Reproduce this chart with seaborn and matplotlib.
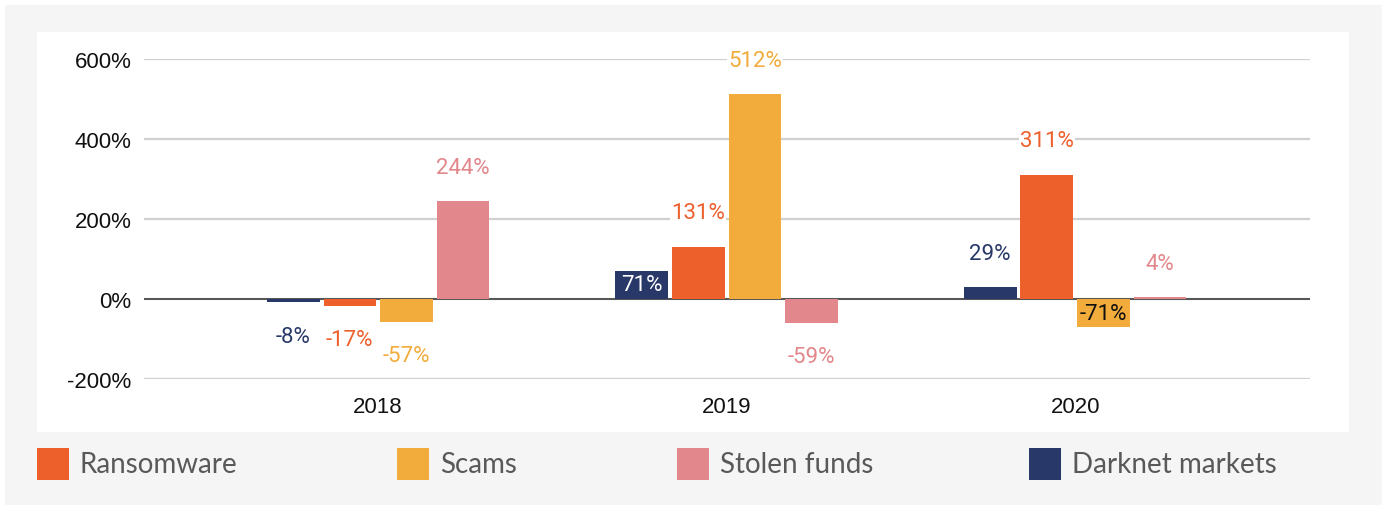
import matplotlib
matplotlib.use("Agg")
import matplotlib.pyplot as plt
from matplotlib.patches import Rectangle
import seaborn as sns
import pandas as pd

# data
years = ["2018", "2019", "2020"]
darknet = [-8, 71, 29]
ransomware = [-17, 131, 311]
scams = [-57, 512, -71]
stolen = [244, -59, 4]
series_names = ["Darknet markets", "Ransomware", "Scams", "Stolen funds"]
series_values = [darknet, ransomware, scams, stolen]
legend_order = ["Ransomware", "Scams", "Stolen funds", "Darknet markets"]
yticks = [-200, 0, 200, 400, 600]

colors = {
    "Darknet markets": "#283868",
    "Ransomware": "#ED5F2B",
    "Scams": "#F2AC3C",
    "Stolen funds": "#E2878B",
}
# labels drawn inside the bar instead of outside
inside = {("2019", "Darknet markets"): "white", ("2020", "Scams"): "#111111"}

rows = []
for name, vals in zip(series_names, series_values):
    for y, v in zip(years, vals):
        rows.append({"year": y, "type": name, "change": v})
df = pd.DataFrame(rows)

W, H = 1382, 506
fig = plt.figure(figsize=(W / 100, H / 100), dpi=100)
fig.patch.set_facecolor("white")
# grey card + white chart panel
fig.add_artist(Rectangle((5 / W, 0), 1, 1 - 6 / H, transform=fig.transFigure,
                         facecolor="#f5f5f5", edgecolor="none", zorder=-3))
fig.add_artist(Rectangle((37 / W, 1 - 433 / H), (1349 - 37) / W, (433 - 33) / H,
                         transform=fig.transFigure, facecolor="white",
                         edgecolor="none", zorder=-2))

ax = fig.add_axes([144 / W, 1 - 380 / H, (1310 - 144) / W, 320 / H])
ax.set_facecolor("none")

sns.barplot(data=df, x="year", y="change", hue="type", hue_order=series_names,
            palette=colors, saturation=1, width=0.65, gap=0.07,
            legend=False, ax=ax, zorder=3)

ax.set_ylim(-200, 600)
ax.set_xlim(-0.672, 2.674)
ax.set_yticks(yticks)
ax.set_yticklabels([f"{t}%" for t in yticks], fontsize=16,
                   family="Liberation Sans", color="#111111")
ax.set_xticklabels(years, fontsize=16, family="Liberation Sans", color="#111111")
ax.tick_params(axis="y", length=0, pad=9)
ax.tick_params(axis="x", length=0, pad=12)
ax.set_xlabel("")
ax.set_ylabel("")
for s in ax.spines.values():
    s.set_visible(False)
ax.grid(axis="y", color="#d0d0d0", linewidth=1.6, zorder=0)
ax.set_axisbelow(True)
ax.axhline(0, color="#333333", linewidth=1.1, zorder=2)

for name, cont in zip(series_names, ax.containers):
    for yr, bar, v in zip(years, cont.patches, series_values[series_names.index(name)]):
        xc = bar.get_x() + bar.get_width() / 2
        if (yr, name) in inside:
            ax.text(xc, v / 2, f"{v}%", ha="center", va="center", fontsize=16,
                    family="Roboto", color=inside[(yr, name)], zorder=5)
        else:
            off = 24.5 if v >= 0 else -24.5
            ax.annotate(f"{v}%", (xc, v), xytext=(0, off), textcoords="offset points",
                        ha="center", va="center", fontsize=16, family="Roboto",
                        color=colors[name], zorder=5, annotation_clip=False,
                        bbox=dict(boxstyle="square,pad=0.05", fc="white", ec="none"))

# legend row
leg_x = [37, 397, 677, 1029]
for name, lx in zip(legend_order, leg_x):
    fig.add_artist(Rectangle((lx / W, 1 - 481 / H), 32 / W, 32 / H,
                             transform=fig.transFigure, facecolor=colors[name],
                             edgecolor="none"))
    fig.text((lx + 43) / W, 1 - 465 / H, name, ha="left", va="center",
             fontsize=20, family="Lato", color="#595959")

fig.savefig("out.png", dpi=100, facecolor=fig.get_facecolor())
